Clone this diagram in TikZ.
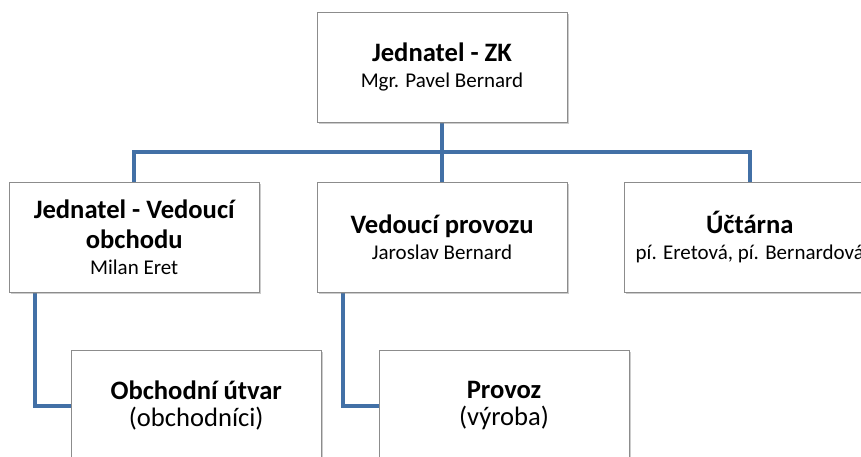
\documentclass[tikz,border=0pt]{standalone}
\usepackage{fontspec}
\setmainfont{Carlito}
\usepackage{tikz}
\usetikzlibrary{positioning,calc,shadows,backgrounds}
\definecolor{LineBlue}{HTML}{4270A6}
\definecolor{EdgeGray}{HTML}{8C8C8C}
\newcommand{\headtext}[1]{{\bfseries\fontsize{26.6}{30}\selectfont #1}}

\begin{document}
\begin{tikzpicture}[x=1pt,y=1pt,
  box/.style={draw=EdgeGray,fill=white,line width=0.8pt,align=center,minimum width=250pt,minimum height=110pt,inner sep=0pt,font=\fontsize{21}{26}\selectfont,drop shadow={shadow xshift=1.5pt,shadow yshift=-1.5pt,opacity=0.4}},
  subbox/.style={box,font=\fontsize{26.6}{27}\selectfont},
  conn/.style={LineBlue,line width=4pt}]
\useasboundingbox (0,0) rectangle (861,-457);
\node[box] (prov) at (442,-237) {\headtext{Vedoucí provozu}\\Jaroslav Bernard};
\node[box,above=59pt of prov] (zk) {\headtext{Jednatel - ZK}\\Mgr. Pavel Bernard};
\node[box,left=57pt of prov] (obch) {\headtext{Jednatel - Vedoucí}\\[4pt]\headtext{obchodu}\\Milan Eret};
\node[box,right=57pt of prov] (uct) {\headtext{Účtárna}\\pí. Eretová, pí. Bernardová};
\node[subbox,below right=58pt and 62pt of obch.south west] (utvar) {\headtext{Obchodní útvar}\\(obchodníci)};
\node[subbox,below right=58pt and 62pt of prov.south west] (vyroba) {\headtext{Provoz}\\(výroba)};
\begin{scope}[on background layer]
\coordinate (bus) at ($(zk.south)!0.5!(prov.north)$);
\draw[conn] (zk.south) -- (prov.north);
\draw[conn] (obch.north) |- (bus) -| (uct.north);
\draw[conn] ([xshift=26pt]obch.south west) |- (utvar.west);
\draw[conn] ([xshift=26pt]prov.south west) |- (vyroba.west);
\end{scope}
\end{tikzpicture}
\end{document}
